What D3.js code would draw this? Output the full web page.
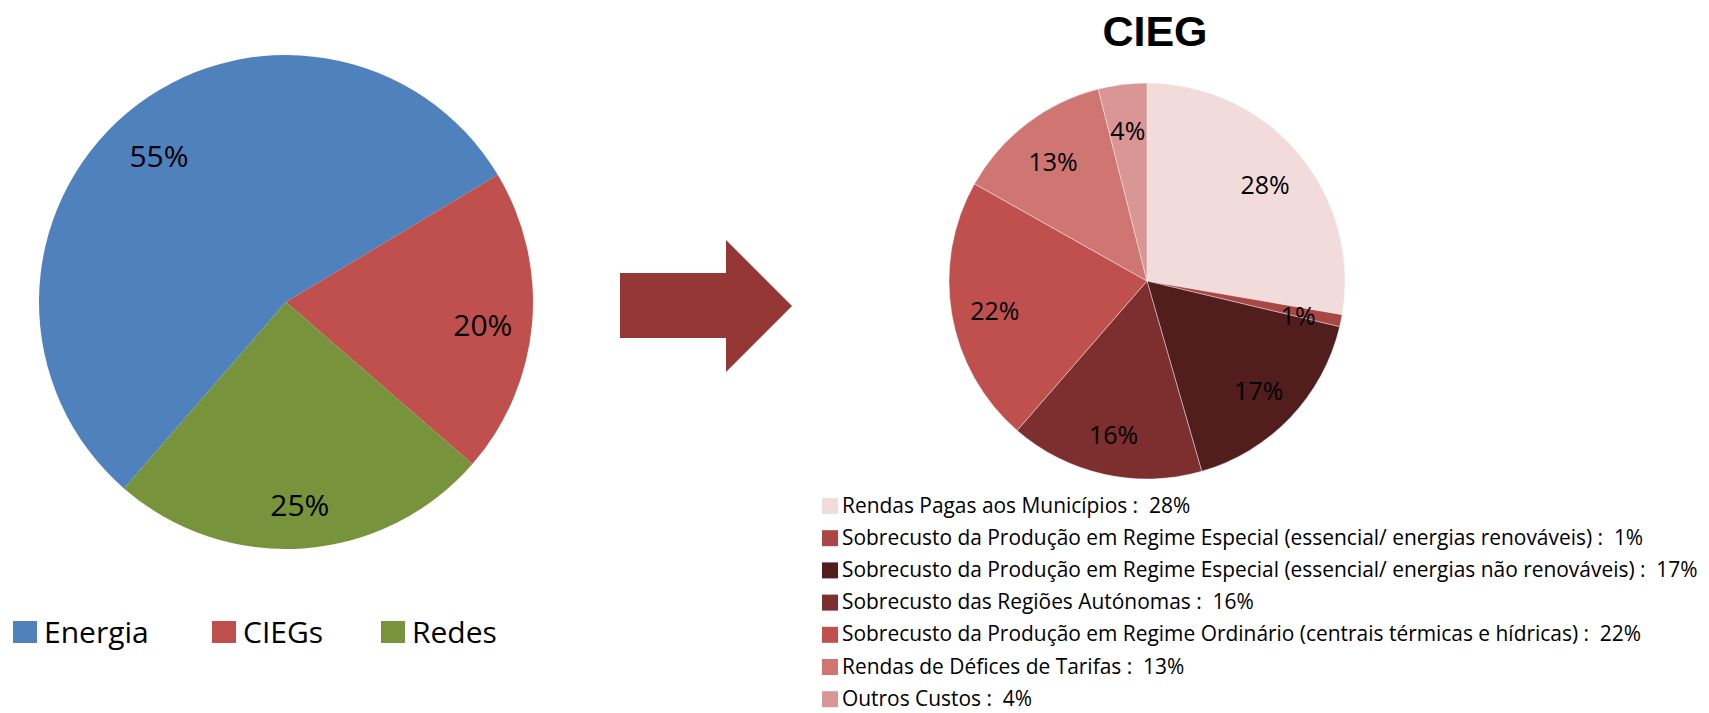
<!DOCTYPE html>
<html lang="pt">
<head>
<meta charset="UTF-8">
<title>Energia / CIEG</title>
<script src="https://d3js.org/d3.v7.min.js"></script>
<style>
  body { margin: 0; background: #fff; }
  text { font-family: "Open Sans", sans-serif; }
</style>
</head>
<body>
<div id="chart"></div>
<script>
// left pie: tariff split
const mainCats   = ["Energia", "CIEGs", "Redes"];
const mainValues = [55, 20, 25];
const mainColors = ["#4F81BD", "#C0504D", "#77933C"];

// right pie: CIEG breakdown
const ciegCats = [
  "Rendas Pagas aos Municípios",
  "Sobrecusto da Produção em Regime Especial (essencial/ energias renováveis)",
  "Sobrecusto da Produção em Regime Especial (essencial/ energias não renováveis)",
  "Sobrecusto das Regiões Autónomas",
  "Sobrecusto da Produção em Regime Ordinário (centrais térmicas e hídricas)",
  "Rendas de Défices de Tarifas",
  "Outros Custos"
];
const ciegValues = [28, 1, 17, 16, 22, 13, 4];
const ciegColors = ["#F2DCDB", "#AA4744", "#521D1D", "#7D2E2E", "#C0504D", "#CF7673", "#DA9694"];

const W = 1709, H = 713;
const deg = Math.PI / 180;

const svg = d3.select("#chart").append("svg")
    .attr("width", W)
    .attr("height", H);

// ---- left pie
const left = { cx: 286, cy: 302, r: 247, start: 221 };
const pieL = d3.pie().sort(null)
    .startAngle(left.start * deg)
    .endAngle(left.start * deg + 2 * Math.PI);
const arcL = d3.arc().innerRadius(0).outerRadius(left.r);
const labelArcL = d3.arc().innerRadius(left.r * 0.8).outerRadius(left.r * 0.8);

const gL = svg.append("g").attr("transform", `translate(${left.cx},${left.cy})`);
const slicesL = pieL(mainValues);
gL.selectAll("path")
    .data(slicesL)
    .enter().append("path")
    .attr("d", arcL)
    .attr("fill", (d, i) => mainColors[i]);

gL.selectAll("text")
    .data(slicesL)
    .enter().append("text")
    .attr("transform", d => `translate(${labelArcL.centroid(d)})`)
    .attr("text-anchor", "middle")
    .attr("dy", "0.55em")
    .style("font-size", "30px")
    .text(d => d.data + "%");

// left legend
const legL = svg.append("g");
const legLx = [13, 212, 381];
mainCats.forEach((c, i) => {
  legL.append("rect")
      .attr("x", legLx[i]).attr("y", 621)
      .attr("width", 24).attr("height", 22)
      .attr("fill", mainColors[i]);
  legL.append("text")
      .attr("x", legLx[i] + 31).attr("y", 643)
      .style("font-size", "30px")
      .text(c);
});

// ---- arrow
const arrow = d3.path();
arrow.moveTo(620, 273);
arrow.lineTo(726, 273);
arrow.lineTo(726, 240);
arrow.lineTo(792, 306);
arrow.lineTo(726, 372);
arrow.lineTo(726, 338);
arrow.lineTo(620, 338);
arrow.closePath();
svg.append("path").attr("d", arrow.toString()).attr("fill", "#953735");

// ---- right pie
const right = { cx: 1147, cy: 281, r: 198 };
svg.append("text")
    .attr("x", 1155).attr("y", 46)
    .attr("text-anchor", "middle")
    .style("font-family", "'Liberation Sans', Arial, sans-serif")
    .style("font-weight", "bold")
    .style("font-size", "43px")
    .text("CIEG");

const pieR = d3.pie().sort(null);
const arcR = d3.arc().innerRadius(0).outerRadius(right.r);
const labelArcR = d3.arc().innerRadius(right.r * 0.78).outerRadius(right.r * 0.78);
const gR = svg.append("g").attr("transform", `translate(${right.cx},${right.cy})`);
const slicesR = pieR(ciegValues);

gR.selectAll("path")
    .data(slicesR)
    .enter().append("path")
    .attr("d", arcR)
    .attr("fill", (d, i) => ciegColors[i])
    .attr("stroke", "#fff")
    .attr("stroke-opacity", 0.5)
    .attr("stroke-width", 0.8);

gR.selectAll("text")
    .data(slicesR)
    .enter().append("text")
    .attr("transform", d => `translate(${labelArcR.centroid(d)})`)
    .attr("text-anchor", "middle")
    .attr("dy", "0.5em")
    .style("font-size", "25px")
    .text(d => d.data + "%");

// right legend, squeezed horizontally like the original
const legR = svg.append("g");
const rowH = 32.2, legTop = 498, legX = 822, textX = 842, longest = 856;
const items = legR.selectAll("g")
    .data(ciegCats)
    .enter().append("g")
    .attr("transform", (d, i) => `translate(0,${legTop + i * rowH})`);
items.append("rect")
    .attr("x", legX).attr("width", 16).attr("height", 16)
    .attr("fill", (d, i) => ciegColors[i]);
const labels = items.append("text")
    .attr("y", 14.5)
    .style("font-size", "21px")
    .style("white-space", "pre")
    .text((d, i) => `${d} :  ${ciegValues[i]}%`);
let maxW = 0;
labels.each(function() { maxW = Math.max(maxW, this.getComputedTextLength()); });
const sx = longest / maxW;
labels.attr("transform", `translate(${textX},0) scale(${sx},1)`);
</script>
</body>
</html>
